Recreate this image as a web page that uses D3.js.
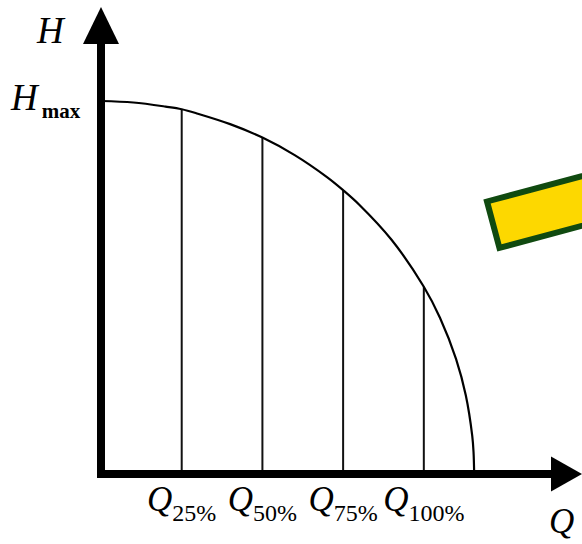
<!DOCTYPE html>
<html>

<head>
  <meta charset="utf-8">
  <script src="https://d3js.org/d3.v7.min.js"></script>
  <style>
    body { margin: 0; background: #fff; }
    text { font-family: "Liberation Serif", "Times New Roman", serif; fill: #000; }
  </style>
</head>

<body>
  <div id="vis"></div>

<script>
  // pump curve H(Q) (Q and H in % of Q100 / Hmax)
  var flowPct = [0, 10, 20, 25, 30, 40, 50, 60, 70, 75, 80, 90, 100, 105, 110, 113, 115, 115.4, 115.6];
  var headPct = [100, 99.6, 98.5, 97.8, 96.6, 93.8, 90.2, 85.5, 79.6, 76.1, 72.2, 62.8, 50.2, 41.9, 30.8, 21.1, 10.2, 5.9, 0];

  // marked operating points on the Q axis
  var markQ = [25, 50, 75, 100];
  var markSub = ['25%', '50%', '75%', '100%'];

  var width = 582, height = 544;

  var svg = d3.select('#vis')
    .append('svg')
    .attr('width', width)
    .attr('height', height)

  var x = d3.scaleLinear().domain([0, 149]).range([101, 582]);
  var y = d3.scaleLinear().domain([0, 100]).range([474, 101]);

  var pts = flowPct.map(function (q, i) { return { q: q, h: headPct[i] }; });

  // yellow box in the corner (part of the original figure)
  svg.append('g')
    .attr('transform', 'translate(487,201.5) rotate(-15)')
    .append('rect')
    .attr('width', 200)
    .attr('height', 48)
    .attr('fill', '#fdd800')
    .attr('stroke', '#104a10')
    .attr('stroke-width', 6)

  // vertical lines under the curve
  svg.selectAll('.mark')
    .data(markQ)
    .enter()
    .append('line')
    .attr('class', 'mark')
    .attr('x1', d => x(d))
    .attr('x2', d => x(d))
    .attr('y1', y(0))
    .attr('y2', d => y(headPct[flowPct.indexOf(d)]))
    .attr('stroke', '#111')
    .attr('stroke-width', 2)

  // the curve
  var line = d3.line()
    .x(d => x(d.q))
    .y(d => y(d.h))
    .curve(d3.curveCatmullRom);

  svg.append('path')
    .datum(pts)
    .attr('d', line)
    .attr('fill', 'none')
    .attr('stroke', '#000')
    .attr('stroke-width', 2.2)

  // axes with arrows
  var x0 = x(0), y0 = y(0);
  svg.append('line')
    .attr('x1', x0).attr('x2', x0)
    .attr('y1', y0 + 4).attr('y2', 40)
    .attr('stroke', '#000').attr('stroke-width', 8)
  svg.append('polygon')
    .attr('points', [[x0, 7], [x0 - 18, 44], [x0 + 18, 44]].join(' '))
    .attr('fill', '#000')

  svg.append('line')
    .attr('x1', x0 - 4).attr('x2', 555)
    .attr('y1', y0).attr('y2', y0)
    .attr('stroke', '#000').attr('stroke-width', 8)
  svg.append('polygon')
    .attr('points', [[582, y0], [551, y0 - 17.5], [551, y0 + 17.5]].join(' '))
    .attr('fill', '#000')

  // Q labels
  var qlab = svg.selectAll('.qlab')
    .data(markQ)
    .enter()
    .append('text')
    .attr('class', 'qlab')
    .attr('x', d => x(d))
    .attr('y', 511)
    .attr('text-anchor', 'middle')
  qlab.append('tspan')
    .attr('font-style', 'italic')
    .attr('font-size', 35)
    .text('Q')
  qlab.append('tspan')
    .attr('font-size', 24)
    .attr('dy', 10)
    .text((d, i) => markSub[i])

  // axis titles
  svg.append('text')
    .attr('x', 37)
    .attr('y', 43)
    .attr('font-style', 'italic')
    .attr('font-size', 37)
    .text('H')

  svg.append('text')
    .attr('x', 549)
    .attr('y', 533)
    .attr('font-style', 'italic')
    .attr('font-size', 35)
    .text('Q')

  var hmax = svg.append('text')
    .attr('x', 11)
    .attr('y', 110)
  hmax.append('tspan')
    .attr('font-style', 'italic')
    .attr('font-size', 37)
    .text('H')
  hmax.append('tspan')
    .attr('font-size', 21)
    .attr('font-weight', 'bold')
    .attr('dy', 8)
    .attr('dx', 4)
    .text('max')
</script>
</body>

</html>
